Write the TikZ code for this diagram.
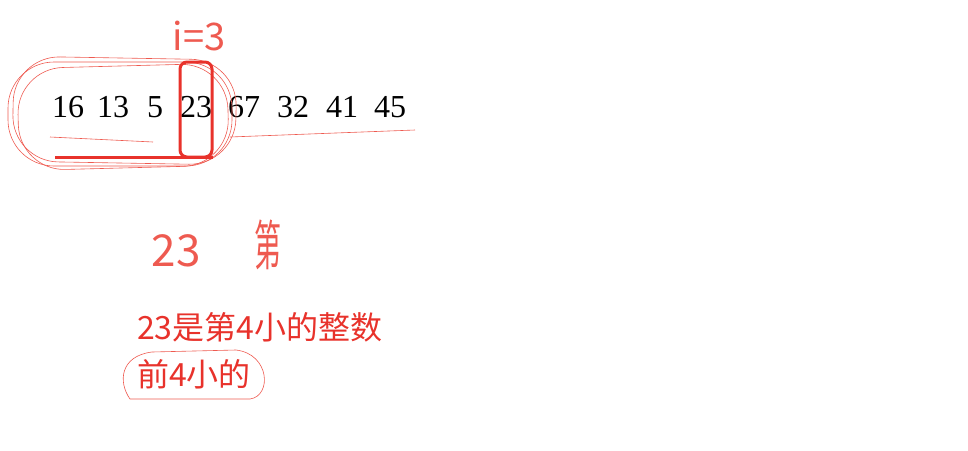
\documentclass[tikz,border=0pt]{standalone}
\usepackage{fontspec}
\setmainfont{Liberation Serif}
\newfontfamily\cjk{Noto Sans CJK SC}
\usetikzlibrary{positioning}
\definecolor{pen}{HTML}{E8322B}
\definecolor{thinpen}{HTML}{EE5A50}

\begin{document}
\begin{tikzpicture}[x=1pt,y=-1pt,
  every node/.style={inner sep=0pt},
  num/.style={anchor=base,font=\fontsize{32}{36}\selectfont,text=black},
  thickpen/.style={draw=pen,line width=3pt},
  penloop/.style={draw=thinpen,line width=0.6pt,rounded corners=46pt},
  scrawl/.style={text=thinpen,font=\cjk\fontsize{44}{48}\selectfont},
  note/.style={anchor=base west,text=pen,font=\cjk\fontsize{32}{36}\selectfont}
]
\useasboundingbox (0,0) rectangle (968,450);

% the row of numbers
\foreach \v/\x [count=\i] in {16/68,13/113,5/155,23/196,67/244,32/293,41/342,45/390}
  \node[num] (n\i) at (\x,117) {\v};

% loops round the first four
\draw[penloop] (8,62) rectangle (232,166);
\draw[penloop,rotate around={-1:(120,112)}] (13,58) rectangle (236,163);
\draw[penloop,rotate around={1.5:(120,112)}] (18,66) rectangle (228,168);

% box on 23 and the thick underline
\draw[thickpen,rounded corners=7pt] (180,62) rectangle (212,157);
\draw[thickpen] (55,157) -- (213,157);

% thin underlines
\draw[thinpen,line width=0.6pt] (50,137) -- (153,142);
\draw[thinpen,line width=0.6pt] (230,137) -- (415,130);

% scrawls
\node[scrawl,font=\cjk\fontsize{38}{42}\selectfont] (idx) at (199,36) {i=3};
\node[scrawl] (hw23) at (176,251) {23};
\node[scrawl,font=\cjk\fontsize{54}{58}\selectfont,xscale=0.5] (hwdi) at (268,245) {第};

% notes
\node[note] (rank) at (137,339) {23是第4小的整数};
\node[note] (first) at (137,386) {前4小的};
\draw[thinpen,line width=0.6pt] (130,399) .. controls (118,382) and (120,356) .. (152,352)
  -- (236,350) .. controls (270,354) and (272,396) .. (250,399) -- cycle;
\end{tikzpicture}
\end{document}
